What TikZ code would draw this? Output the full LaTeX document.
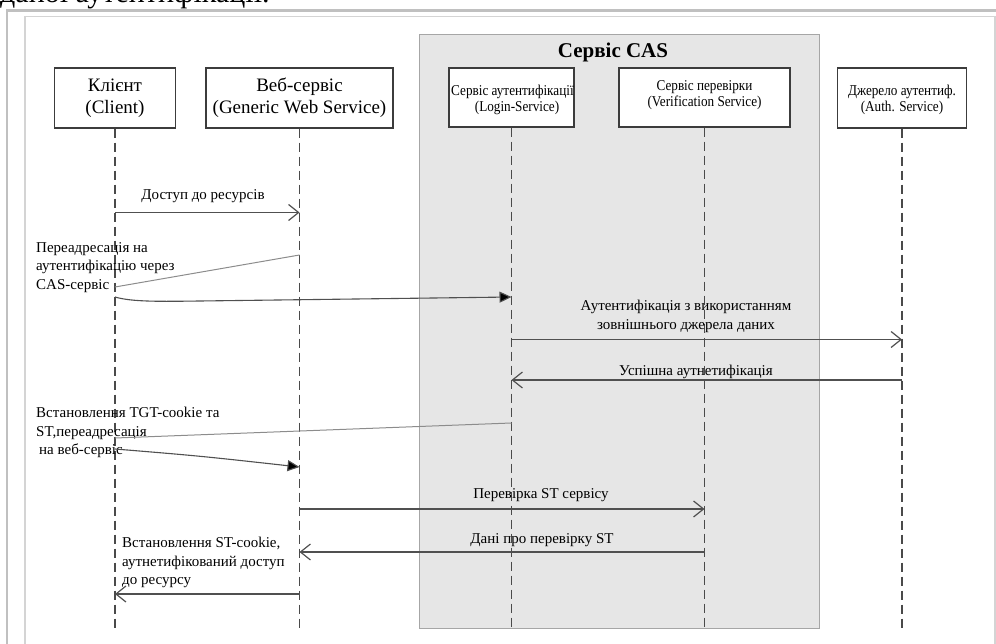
\documentclass[tikz,border=0pt]{standalone}
\usepackage{fontspec}
\setmainfont{Liberation Serif}
\newfontfamily\narrowserif[FakeStretch=0.88]{Liberation Serif}
\usetikzlibrary{arrows.meta,calc}
\definecolor{outerframe}{HTML}{C0C0C0}
\definecolor{innerframe}{HTML}{D4D4D4}
\definecolor{boxline}{HTML}{3C3C3C}
\definecolor{lifegray}{HTML}{4A4A4A}
\definecolor{msggray}{HTML}{505050}
\definecolor{hintgray}{HTML}{8C8C8C}
\definecolor{casfill}{HTML}{E6E6E6}
\definecolor{casline}{HTML}{A6A6A6}
\tikzset{
  actor/.style={draw=boxline, line width=1.3pt, fill=white, inner sep=0pt,
    align=center, font=\fontsize{19}{22}\selectfont},
  casbox/.style={draw=boxline, line width=1.3pt, fill=white, inner sep=0pt},
  castext/.style={inner sep=0pt, font=\narrowserif\fontsize{15}{17}\selectfont},
  life/.style={draw=lifegray, line width=1.2pt, dash pattern=on 9pt off 5pt},
  msg/.style={draw=msggray, line width=1.3pt,
    -{Straight Barb[length=10pt,width=16pt,line width=1.2pt]}},
  push/.style={draw=msggray, line width=1.1pt,
    -{Triangle[length=12pt,width=11pt,fill=black]}},
  hint/.style={draw=hintgray, line width=1pt},
  lbl/.style={inner sep=0pt, font=\fontsize{15}{18.5}\selectfont},
}
\begin{document}
\begin{tikzpicture}[x=1pt,y=-1pt]
\useasboundingbox (0,0) rectangle (996,644);
\clip (0,0) rectangle (996,644);

% text line running above the frame
\node[anchor=base west, inner sep=0pt, font=\fontsize{30}{30}\selectfont] (caption) at (0,3) {даної аутентифікації.};

% frames
\draw[outerframe, line width=2.5pt] (7,10.5) rectangle (1010,660);
\draw[innerframe, line width=1.5pt] (25,16.5) rectangle (995,660);

% CAS service area
\node[draw=casline, fill=casfill, line width=1.2pt, inner sep=0pt,
      minimum width=400pt, minimum height=594pt, anchor=north west] (cas) at (419,34) {};
\node[anchor=base, inner sep=0pt, font=\bfseries\fontsize{21}{23}\selectfont] (castitle) at (613,58) {Сервіс CAS};

% participants
\node[actor, minimum width=121pt, minimum height=60pt] (client) at (115,98) {Клієнт\\(Client)};
\node[actor, minimum width=187pt, minimum height=60pt] (web) at (299.5,98) {Веб-сервіс\\(Generic Web Service)};
\node[casbox, minimum width=125pt, minimum height=59pt] (login) at (511.5,97.5) {};
\node[casbox, minimum width=171pt, minimum height=59pt] (verif) at (704.5,97.5) {};
\node[casbox, minimum width=129pt, minimum height=60pt] (auth) at (902,98) {};

% lifelines
\draw[life] (client.south) -- (client |- 0,630);
\draw[life] (web.south) -- (web |- 0,630);
\draw[life] (login.south) -- (login |- 0,630);
\draw[life] (verif.south) -- (verif |- 0,630);
\draw[life] (auth.south) -- (auth |- 0,630);

% participant captions inside the CAS boxes
\begin{scope}
  \clip (login.south west) rectangle (login.north east);
  \node[castext, anchor=base west] (loginA) at (451,96) {Сервіс аутентифікації};
\end{scope}
\node[castext, anchor=base] (loginB) at (517,112) {(Login-Service)};
\node[castext, anchor=base] (verifA) at (704.5,91) {Сервіс перевірки};
\node[castext, anchor=base] (verifB) at (704.5,107) {(Verification Service)};
\node[castext, anchor=base] (authA) at (902,96) {Джерело аутентиф.};
\node[castext, anchor=base] (authB) at (902,112) {(Auth. Service)};

% 1: resource request
\draw[msg] (client |- 0,212.5) -- (web |- 0,212.5);
\node[lbl, anchor=base] (m1) at (203,200) {Доступ до ресурсів};

% 2: redirect to CAS login
\node[lbl, anchor=north west, align=left] (m2) at (36,242) {Переадресація на\\аутентифікацію через\\CAS-сервіс};
\draw[hint] (web |- 0,255) -- (client |- 0,287);
\draw[push] (client |- 0,297) .. controls (132,302) and (160,301.5) .. (200,301) -- (login |- 0,297);

% 3: external authentication
\node[lbl, anchor=north, align=center] (m3) at (686,300) {Аутентифікація з використанням\\зовнішнього джерела даних};
\draw[msg] (login |- 0,339.5) -- (auth |- 0,339.5);

% 4: success
\node[lbl, anchor=base] (m4) at (696,375) {Успішна аутнетифікація};
\draw[msg] (auth |- 0,380) -- (login |- 0,380);

% 5: TGT cookie and ticket
\node[lbl, anchor=north west, align=left] (m5) at (36,407) {Встановлення TGT-cookie та\\ST,переадресація\\\hspace{3pt}на веб-сервіс};
\draw[hint] (login |- 0,423) -- (client |- 0,438);
\draw[push] (client |- 0,449) .. controls (200,456) .. (web |- 0,467);

% 6: ticket validation
\node[lbl, anchor=base] (m6) at (541,498) {Перевірка ST сервісу};
\draw[msg] (web |- 0,509) -- (verif |- 0,509);

% 7: validation result
\node[lbl, anchor=base] (m7) at (542,543) {Дані про перевірку ST};
\draw[msg] (verif |- 0,552) -- (web |- 0,552);

% 8: authenticated access
\node[lbl, anchor=north west, align=left] (m8) at (122,537) {Встановлення ST-cookie,\\аутнетифікований доступ\\до ресурсу};
\draw[msg] (web |- 0,594) -- (client |- 0,594);
\end{tikzpicture}
\end{document}
